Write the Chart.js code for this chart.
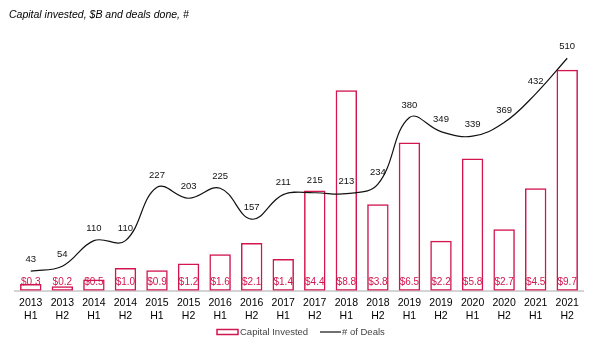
<!DOCTYPE html>
<html>
<head>
<meta charset="utf-8">
<script src="https://cdn.jsdelivr.net/npm/chart.js@4"></script>
<style>
html,body{margin:0;padding:0;background:#fff;}
#wrap{width:597px;height:354px;position:relative;}
</style>
</head>
<body>
<div id="wrap"><canvas id="c" width="597" height="354"></canvas></div>
<script>
const years = ["2013","2013","2014","2014","2015","2015","2016","2016","2017","2017","2018","2018","2019","2019","2020","2020","2021","2021"];
const halves = ["H1","H2","H1","H2","H1","H2","H1","H2","H1","H2","H1","H2","H1","H2","H1","H2","H1","H2"];
const capitalInvested = [0.3,0.2,0.5,1.0,0.9,1.2,1.6,2.1,1.4,4.4,8.8,3.8,6.5,2.2,5.8,2.7,4.5,9.7];
const numDeals = [43,54,110,110,227,203,225,157,211,215,213,234,380,349,339,369,432,510];
const titleText = "Capital invested, $B and deals done, #";
const barLabel = "Capital Invested";
const lineLabel = "# of Deals";

const RED = '#d2164f';
const FONT = '"Liberation Sans", Arial, sans-serif';

const labels = years.map((y,i)=>[y, halves[i]]);

const overlay = {
  id:'overlay',
  afterDatasetsDraw(chart){
    const ctx = chart.ctx;
    ctx.save();
    const barMeta = chart.getDatasetMeta(1);
    const base = chart.scales.y.getPixelForValue(0);
    ctx.font = '10px ' + FONT;
    ctx.fillStyle = RED;
    ctx.textAlign = 'center';
    ctx.textBaseline = 'middle';
    barMeta.data.forEach((el,i)=>{
      ctx.fillText('$' + capitalInvested[i].toFixed(1), el.x, base - 9);
    });
    const lineMeta = chart.getDatasetMeta(0);
    ctx.fillStyle = '#111';
    ctx.font = '9.5px ' + FONT;
    lineMeta.data.forEach((el,i)=>{
      ctx.fillText(String(numDeals[i]), el.x, el.y - 12);
    });
    ctx.restore();
  },
  afterDraw(chart){
    const ctx = chart.ctx;
    ctx.save();
    ctx.font = 'italic 10.5px ' + FONT;
    ctx.fillStyle = '#000';
    ctx.textAlign = 'left';
    ctx.textBaseline = 'middle';
    ctx.fillText(titleText, 9, 15);
    const ly = 332;
    ctx.strokeStyle = RED;
    ctx.lineWidth = 1.5;
    ctx.strokeRect(217, ly-2.5, 21, 5);
    ctx.font = '9.5px ' + FONT;
    ctx.fillStyle = '#444';
    ctx.fillText(barLabel, 240, ly);
    ctx.strokeStyle = '#111';
    ctx.lineWidth = 1.2;
    ctx.beginPath(); ctx.moveTo(320, ly); ctx.lineTo(341, ly); ctx.stroke();
    ctx.fillText(lineLabel, 342, ly);
    ctx.restore();
  }
};

new Chart(document.getElementById('c'), {
  type:'bar',
  data:{
    labels: labels,
    datasets:[
      {
        type:'line',
        label: lineLabel,
        data: numDeals,
        yAxisID:'y1',
        borderColor:'#111',
        borderWidth:1.2,
        pointRadius:0,
        tension:0.4,
        fill:false,
        order:0
      },
      {
        type:'bar',
        label: barLabel,
        data: capitalInvested,
        yAxisID:'y',
        backgroundColor:'rgba(255,255,255,0)',
        borderColor: RED,
        borderWidth:1.5,
        borderSkipped:false,
        categoryPercentage:1,
        barPercentage:0.68,
        order:1
      }
    ]
  },
  options:{
    responsive:false,
    animation:false,
    devicePixelRatio:1,
    layout:{padding:{left:15,right:14,top:40,bottom:26}},
    plugins:{legend:{display:false}, title:{display:false}, tooltip:{enabled:false}},
    scales:{
      x:{
        offset:true,
        grid:{display:false, drawTicks:false},
        border:{display:true, color:'#d4d4d4', width:2},
        ticks:{color:'#000', font:{family:FONT, size:10.5}, padding:6, maxRotation:0, autoSkip:false}
      },
      y:{display:false, min:0, max:11},
      y1:{display:false, min:0, max:550}
    }
  },
  plugins:[overlay]
});
</script>
</body>
</html>
